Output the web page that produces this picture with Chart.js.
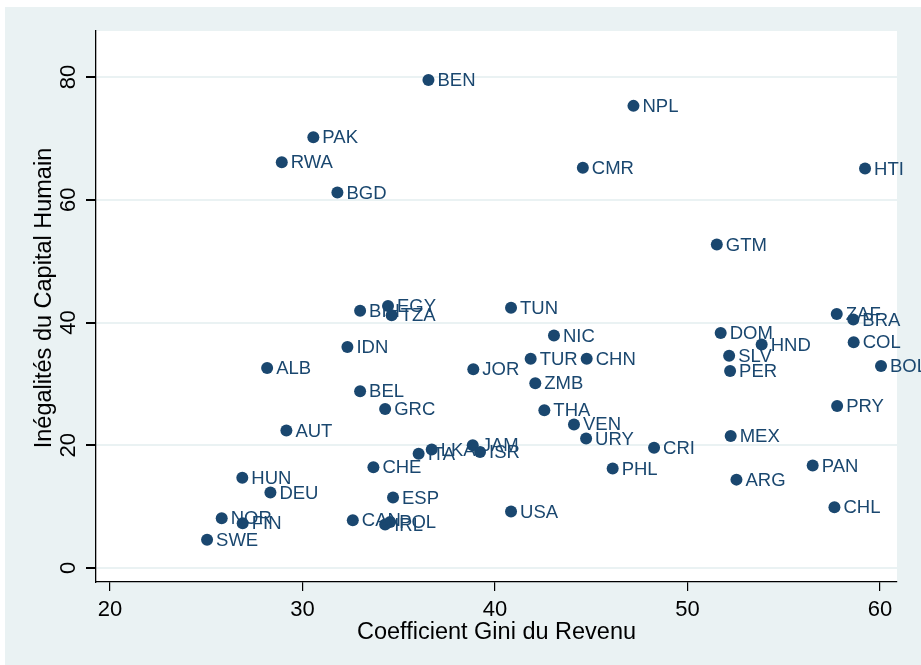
<!DOCTYPE html>
<html>
<head>
<meta charset="utf-8">
<script src="https://cdn.jsdelivr.net/npm/chart.js@4"></script>
<style>
  body { margin: 0; background: #fff; }
  canvas { display: block; }
</style>
</head>
<body>
<canvas id="giniChart" width="921" height="665"></canvas>
<script>
// Country codes, Gini (x) and human capital inequality (y)
const countries = ['BEN','NPL','PAK','RWA','CMR','HTI','BGD','GTM','BIH','EGY','TZA','TUN','ZAF','BRA',
    'DOM','NIC','IDN','HND','COL','SLV','TUR','CHN','ALB','JOR','PER','BOL','ZMB','BEL','PRY','GRC',
    'THA','VEN','AUT','MEX','URY','JAM','CRI','LKA','ISR','ITA','PAN','CHE','PHL','HUN','ARG','DEU',
    'ESP','CHL','USA','NOR','CAN','POL','FIN','IRL','SWE'];
const gini = [36.54, 47.19, 30.56, 28.92, 44.56, 59.22, 31.81, 51.52, 32.99, 34.44, 34.63, 40.83, 57.75, 58.61,
    51.72, 43.06, 32.33, 53.85, 58.63, 52.16, 41.85, 44.76, 28.16, 38.87, 52.21, 60.05, 42.09, 32.99, 57.77, 34.29,
    42.56, 44.10, 29.16, 52.24, 44.73, 38.84, 48.26, 36.71, 39.22, 36.03, 56.50, 33.68, 46.11, 26.87, 52.54, 28.33,
    34.70, 57.63, 40.83, 25.80, 32.61, 34.55, 26.89, 34.29, 25.04];
const hcInequality = [79.5, 75.3, 70.2, 66.1, 65.2, 65.1, 61.2, 52.7, 41.9, 42.7, 41.2, 42.4, 41.4, 40.5,
    38.3, 37.9, 36.0, 36.4, 36.8, 34.6, 34.1, 34.1, 32.6, 32.4, 32.1, 32.9, 30.1, 28.8, 26.4, 25.9,
    25.7, 23.4, 22.4, 21.5, 21.1, 20.0, 19.6, 19.3, 18.9, 18.6, 16.7, 16.4, 16.2, 14.7, 14.4, 12.3,
    11.5, 9.9, 9.2, 8.1, 7.8, 7.5, 7.3, 7.1, 4.6];
const xTicks = [20, 30, 40, 50, 60];
const yTicks = [0, 20, 40, 60, 80];

const navy = '#1a476f';
const bgBlue = '#eaf2f3';
const font = '"Liberation Sans", Arial, sans-serif';

const points = countries.map((c, i) => ({ x: gini[i], y: hcInequality[i], label: c }));

// backgrounds (graph region + white plot region)
const backgroundPlugin = {
    id: 'stataBackground',
    beforeDraw(chart) {
        const c = chart.ctx;
        const a = chart.chartArea;
        c.save();
        c.fillStyle = '#ffffff';
        c.fillRect(0, 0, chart.width, chart.height);
        c.fillStyle = bgBlue;
        c.fillRect(5, 7, chart.width - 5, chart.height - 7);
        c.fillStyle = '#ffffff';
        c.fillRect(a.left, a.top, a.right - a.left, a.bottom - a.top);
        c.restore();
    }
};

// marker labels, y tick labels and axis titles
const labelPlugin = {
    id: 'stataLabels',
    afterDatasetsDraw(chart) {
        const c = chart.ctx;
        const meta = chart.getDatasetMeta(0);
        c.save();
        c.font = '18.5px ' + font;
        c.fillStyle = navy;
        c.textBaseline = 'middle';
        c.textAlign = 'left';
        meta.data.forEach((pt, i) => {
            c.fillText(points[i].label, pt.x + 9, pt.y + 1);
        });
        c.restore();
    },
    afterDraw(chart) {
        const c = chart.ctx;
        const yScale = chart.scales.y;
        const a = chart.chartArea;
        c.save();
        c.fillStyle = '#000';
        c.font = '22px ' + font;
        c.textAlign = 'center';
        c.textBaseline = 'middle';
        yTicks.forEach(v => {
            c.save();
            c.translate(69, yScale.getPixelForValue(v));
            c.rotate(-Math.PI / 2);
            c.fillText(String(v), 0, 0);
            c.restore();
        });
        c.font = '23.5px ' + font;
        c.fillText('Coefficient Gini du Revenu', (a.left + a.right) / 2, 633);
        c.save();
        c.translate(45, 298);
        c.rotate(-Math.PI / 2);
        c.fillText('Inégalités du Capital Humain', 0, 0);
        c.restore();
        c.restore();
    }
};

const ctx = document.getElementById('giniChart').getContext('2d');
const giniChart = new Chart(ctx, {
    type: 'scatter',
    data: {
        datasets: [{
            data: points,
            backgroundColor: navy,
            borderColor: navy,
            borderWidth: 0,
            pointRadius: 6,
            pointHoverRadius: 6
        }]
    },
    options: {
        responsive: false,
        animation: false,
        events: [],
        layout: { padding: { top: 31, right: 24, left: 0, bottom: 0 } },
        plugins: {
            legend: { display: false },
            tooltip: { enabled: false }
        },
        scales: {
            x: {
                type: 'linear',
                min: 19.27,
                max: 60.88,
                afterBuildTicks: s => { s.ticks = xTicks.map(v => ({ value: v })); },
                afterFit: s => { s.height = 83; },
                border: { display: true, color: '#000', width: 1.3 },
                grid: { color: 'rgba(0,0,0,0)', tickColor: '#000', tickLength: 9, drawTicks: true, lineWidth: 1.2 },
                ticks: { color: '#000', font: { family: font, size: 22 }, padding: 6, maxRotation: 0 }
            },
            y: {
                type: 'linear',
                min: -2.28,
                max: 87.5,
                afterBuildTicks: s => { s.ticks = yTicks.map(v => ({ value: v })); },
                afterFit: s => { s.width = 96; },
                border: { display: true, color: '#000', width: 1.3 },
                grid: { color: bgBlue, tickColor: '#000', tickLength: 10, drawTicks: true, lineWidth: 2 },
                ticks: { display: false }
            }
        }
    },
    plugins: [backgroundPlugin, labelPlugin]
});
</script>
</body>
</html>
